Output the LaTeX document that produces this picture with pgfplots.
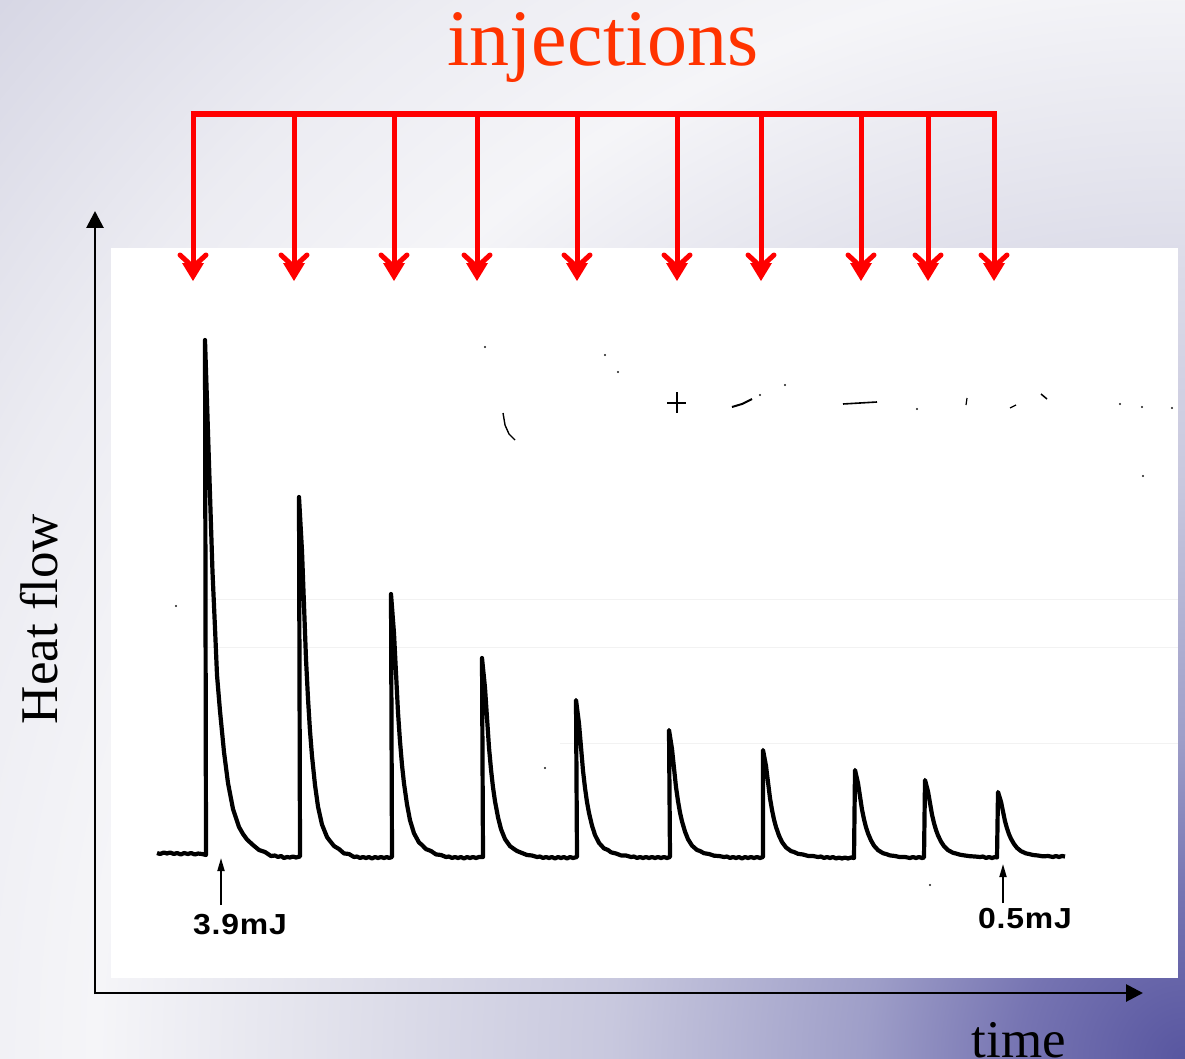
\documentclass[border=0pt]{standalone}
\usepackage{pgfplots}
\pgfplotsset{compat=1.18}
\usepackage{fontspec}
\setmainfont{Liberation Serif}
\newfontfamily\labfont[FakeStretch=1.1,LetterSpace=3]{Liberation Sans}
\usetikzlibrary{arrows.meta}
\definecolor{injred}{RGB}{255,51,0}
\definecolor{arrred}{RGB}{255,0,0}
\definecolor{bgA}{RGB}{88,86,160}
\definecolor{bgB}{RGB}{118,116,178}
\definecolor{bgC}{RGB}{158,158,200}
\definecolor{bgD}{RGB}{200,200,222}
\definecolor{bgE}{RGB}{226,226,236}
\definecolor{bgF}{RGB}{245,245,248}
\definecolor{bgG}{RGB}{236,236,242}
\definecolor{bgH}{RGB}{214,214,228}
\pgfdeclareradialshading{slidebg}{\pgfpoint{0bp}{0bp}}{%
 color(0bp)=(bgA); color(2.6bp)=(bgB); color(5bp)=(bgC); color(9bp)=(bgD);
 color(13.5bp)=(bgE); color(17bp)=(bgF); color(20.3bp)=(bgG); color(25bp)=(bgH); color(50bp)=(bgH)}
\begin{document}
\begin{tikzpicture}
\useasboundingbox (0,0) rectangle (1185pt,1059pt);
\clip (0,0) rectangle (1185pt,1059pt);
\shade[shading=slidebg] (1185pt,0pt) circle (1600pt);
\begin{axis}[
  scale only axis, width=1185pt, height=1059pt,
  xmin=0, xmax=1185, ymin=0, ymax=1059, y dir=reverse,
  hide axis, clip=false]
% white panel
\addplot[fill=white, draw=none] coordinates {(111,248) (1178,248) (1178,978) (111,978)} --cycle;
% faint scan lines
\addplot[gray!10, line width=1pt] coordinates {(205,599) (1178,599)};
\addplot[gray!10, line width=1pt] coordinates {(205,647) (1178,647)};
\addplot[gray!10, line width=1pt] coordinates {(560,743) (1178,743)};
% scan specks
\addplot[only marks, mark=*, mark size=0.9pt, black!80] coordinates {(176,606) (545,768) (485,347) (1143,476) (930,885) (605,355) (618,372) (760,395) (785,385) (917,409) (1120,404) (1142,407) (1172,408)};
\addplot[black, line width=2.5pt] coordinates {(667,403) (686,403)};
\addplot[black, line width=1.5pt] coordinates {(677,392) (677,413)};
\addplot[black, line width=2pt] coordinates {(732,407) (742,404) (752,399)};
\addplot[black, line width=1.6pt] coordinates {(843,404) (877,402)};
\addplot[black, line width=1.4pt] coordinates {(503,413) (505,425) (509,434) (515,440)};
\addplot[black, line width=1.5pt] coordinates {(1041,394) (1047,399)};
\addplot[black, line width=1.2pt] coordinates {(967,398) (966,405)};
\addplot[black, line width=1.2pt] coordinates {(1010,408) (1016,405)};
% calorimeter trace
\addplot[black, line width=4.2pt, line join=round] coordinates {
(157,853) (160,854) (164,852.5) (167,853.5) (170,852.5) (174,854) (177,853) (181,854.5) (184,853) (188,854) (191,853) (195,854.5) (198,853.5) (202,854) (206,855)
(205,340)
(207.5,417) (210,494.5) (212.5,572) (215,628) (217,675) (220,711) (224,752) (228,783) (233,809) (239,827) (243,834) (247,839.5) (253,845) (259,850) (265,852) (271,856)
(275,855.5) (278,857) (281,856) (284,858) (287,857) (290,857.5) (293,856.5) (296,857.5) (300,856.5)
(299,497)
(302,551) (304,605) (306,659) (308,698.6) (310,731) (312,756) (315,785) (318,806.6) (322,824.6) (327,837) (330,841) (334,846) (339,849) (344,853.4) (349,854) (354,857)
(357,856.5) (360,858) (363,857) (366,858) (369,857) (372,858.5) (375,857) (378,858) (381,857) (384,858) (387,857) (389,858) (392,857)
(391,594)
(394,633.4) (396,672.9) (398,712.35) (400,741.3) (402,765) (404,783.4) (407,804.4) (410,820.2) (414,833.3) (419,842.5) (422,845) (426,849.1) (431,851) (436,854.4) (441,855) (446,857)
(449,856.5) (452,858) (455,857) (458,858) (461,857) (464,858.5) (467,857) (470,858) (473,857) (476,858) (479,857) (483,857)
(482,658)
(485,687.85) (487,717.7) (489,747.55) (491,769.44) (493,787.35) (495,801.28) (498,817.2) (501,829.14) (505,839.09) (510,846.1) (514,849) (517,851) (522,853) (527,855) (532,855.5) (537,857)
(540,856.5) (543,858) (546,857) (549,858) (552,857) (555,858.5) (558,857) (561,858) (564,857) (567,858.5) (570,857) (573,858) (577,857)
(576,700)
(579,723.55) (581,747.1) (583,770.65) (585,787.9) (587,802) (589,813) (592,825.6) (595,835) (599,842.9) (604,848.4) (608,850) (611,852.3) (616,853.5) (621,855.4) (626,855.5) (631,857)
(634,856.5) (637,858) (640,857) (643,858) (646,857) (649,858) (652,857) (655,858) (658,857) (661,858) (664,857) (667,858) (670,857)
(669,730)
(672,749) (674,768.1) (676,787.15) (678,801.1) (680,812.55) (682,821.4) (685,831.6) (688,839.2) (692,845.6) (697,850) (700,851) (704,853.2) (709,854) (714,855.7) (719,856) (724,857)
(727,856.5) (730,858) (733,857) (736,858) (739,857) (742,858.5) (745,857) (748,858) (751,857) (754,858) (757,857) (760,858) (763,857)
(763,750)
(766,766) (768,782.1) (770,798.15) (772,809.9) (774,819.55) (776,827) (779,835.6) (782,842) (786,847.4) (791,851.1) (794,852) (798,853.8) (803,854.5) (808,855.9) (813,856) (818,857)
(821,856.5) (824,858) (827,857) (830,858) (833,857) (836,858.5) (839,857.5) (842,858.5) (845,857.5) (848,858.5) (851,857.5) (854,858)
(855,770)
(858,783.2) (860,796.4) (862,809.6) (864,819.3) (866,827.2) (868,833.4) (871,840.4) (874,845.7) (878,850.1) (883,853.2) (886,854) (890,855.4) (895,856) (900,857.1) (905,857) (910,858)
(913,857) (916,858) (919,857) (922,858) (924,857.5)
(925,780)
(928,791.55) (930,803.1) (932,814.65) (934,823.1) (936,830) (938,835.4) (941,841.6) (944,846.2) (948,850.1) (953,852.8) (956,853.5) (960,854.7) (965,855.5) (970,856.2) (975,856.5) (980,857)
(983,856.5) (986,858) (989,857) (992,858) (995,857) (997,857.5)
(998,792)
(1001,801.75) (1003,811.5) (1005,821.25) (1007,828.4) (1009,834.25) (1011,838.8) (1014,844) (1017,847.9) (1021,851.15) (1026,853.4) (1029,854) (1033,855) (1038,855.5) (1043,856.35) (1048,856) (1053,857)
(1056,856) (1059,857) (1062,856) (1065,856.5)
};
% energy markers
\addplot[black, line width=1.8pt, -{Triangle[width=7pt,length=13pt]}] coordinates {(221,905) (221,858)};
\addplot[black, line width=1.8pt, -{Triangle[width=7pt,length=13pt]}] coordinates {(1003,903) (1003,864)};
\node[font=\labfont\bfseries\fontsize{29}{31}\selectfont, anchor=center] at (axis cs:240,925) {3.9mJ};
\node[font=\labfont\bfseries\fontsize{29}{31}\selectfont, anchor=center] at (axis cs:1025,919) {0.5mJ};
% axes arrows
\addplot[black, line width=2.8pt, -{Triangle[width=17pt,length=17pt]}] coordinates {(95,994) (95,211)};
\addplot[black, line width=2.8pt, -{Triangle[width=17pt,length=17pt]}] coordinates {(94,993) (1143,993)};
\node[rotate=90, anchor=base, font=\fontsize{53}{56}\selectfont] at (axis cs:57,619) {Heat flow};
\node[anchor=base, font=\fontsize{53}{56}\selectfont] at (axis cs:1019,1057) {time};
% injections bracket
\node[anchor=base, text=injred, font=\fontsize{80}{84}\selectfont] at (axis cs:603,66) {injections};
\addplot[arrred, line width=6pt] coordinates {(190.5,114) (996.5,114)};
\addplot[arrred, line width=5pt] coordinates {(193,114) (193,266)};
\addplot[arrred, line width=5pt] coordinates {(294,114) (294,266)};
\addplot[arrred, line width=5pt] coordinates {(394,114) (394,266)};
\addplot[arrred, line width=5pt] coordinates {(477,114) (477,266)};
\addplot[arrred, line width=5pt] coordinates {(577,114) (577,266)};
\addplot[arrred, line width=5pt] coordinates {(677,114) (677,266)};
\addplot[arrred, line width=5pt] coordinates {(761,114) (761,266)};
\addplot[arrred, line width=5pt] coordinates {(861,114) (861,266)};
\addplot[arrred, line width=5pt] coordinates {(928,114) (928,266)};
\addplot[arrred, line width=5pt] coordinates {(994,114) (994,266)};
\addplot[arrred, line width=5pt, line cap=round, line join=round] coordinates {(180,255) (193,267) (206,255)};
\addplot[arrred, line width=5pt, line cap=round, line join=round] coordinates {(281,255) (294,267) (307,255)};
\addplot[arrred, line width=5pt, line cap=round, line join=round] coordinates {(381,255) (394,267) (407,255)};
\addplot[arrred, line width=5pt, line cap=round, line join=round] coordinates {(464,255) (477,267) (490,255)};
\addplot[arrred, line width=5pt, line cap=round, line join=round] coordinates {(564,255) (577,267) (590,255)};
\addplot[arrred, line width=5pt, line cap=round, line join=round] coordinates {(664,255) (677,267) (690,255)};
\addplot[arrred, line width=5pt, line cap=round, line join=round] coordinates {(748,255) (761,267) (774,255)};
\addplot[arrred, line width=5pt, line cap=round, line join=round] coordinates {(848,255) (861,267) (874,255)};
\addplot[arrred, line width=5pt, line cap=round, line join=round] coordinates {(915,255) (928,267) (941,255)};
\addplot[arrred, line width=5pt, line cap=round, line join=round] coordinates {(981,255) (994,267) (1007,255)};
\addplot[fill=arrred, draw=none] coordinates {(182,263) (204,263) (193,281)} --cycle;
\addplot[fill=arrred, draw=none] coordinates {(283,263) (305,263) (294,281)} --cycle;
\addplot[fill=arrred, draw=none] coordinates {(383,263) (405,263) (394,281)} --cycle;
\addplot[fill=arrred, draw=none] coordinates {(466,263) (488,263) (477,281)} --cycle;
\addplot[fill=arrred, draw=none] coordinates {(566,263) (588,263) (577,281)} --cycle;
\addplot[fill=arrred, draw=none] coordinates {(666,263) (688,263) (677,281)} --cycle;
\addplot[fill=arrred, draw=none] coordinates {(750,263) (772,263) (761,281)} --cycle;
\addplot[fill=arrred, draw=none] coordinates {(850,263) (872,263) (861,281)} --cycle;
\addplot[fill=arrred, draw=none] coordinates {(917,263) (939,263) (928,281)} --cycle;
\addplot[fill=arrred, draw=none] coordinates {(983,263) (1005,263) (994,281)} --cycle;
\end{axis}
\end{tikzpicture}
\end{document}
